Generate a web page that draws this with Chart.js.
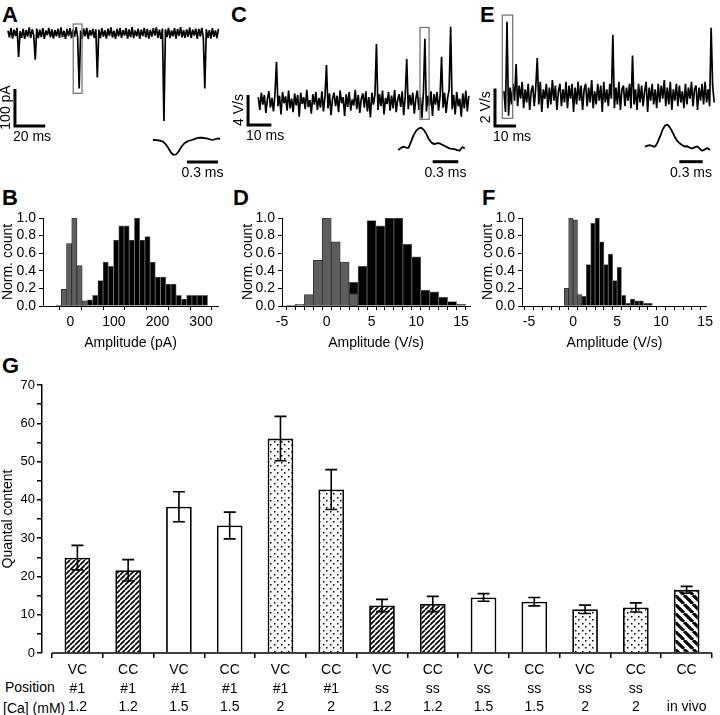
<!DOCTYPE html>
<html>
<head>
<meta charset="utf-8">
<script src="https://cdn.jsdelivr.net/npm/chart.js@4.4.1/dist/chart.umd.min.js"></script>
<style>
  body { margin: 0; background: #fff; }
  #fig { position: relative; width: 720px; height: 715px; overflow: hidden; font-family: "Liberation Sans", Arial, sans-serif; color: #000; }
  #fig canvas { position: absolute; }
  .panel { position: absolute; font-weight: bold; font-size: 22px; line-height: 22px; }
  .rowlabel { position: absolute; font-size: 14px; line-height: 14px; }
</style>
</head>
<body>
<div id="fig">
  <div class="panel" style="left:2px;top:4px">A</div>
  <div class="panel" style="left:231px;top:4px">C</div>
  <div class="panel" style="left:480px;top:4px">E</div>
  <div class="panel" style="left:2px;top:187px">B</div>
  <div class="panel" style="left:233px;top:187px">D</div>
  <div class="panel" style="left:482px;top:187px">F</div>
  <div class="panel" style="left:2px;top:355px">G</div>
  <div class="rowlabel" style="left:5px;top:680px">Position</div>
  <div class="rowlabel" style="left:3px;top:701px">[Ca] (mM)</div>
</div>
<script>
// A: voltage clamp trace (pA), one sample per ms
const traceA = [
  6, -12, 13, -15, 9, -8, 14, -65, 5, -13,
  11, -16, 8, -10, 15, -13, 10, -7, -72, 12,
  -14, 9, -11, 13, -16, 7, -6, 14, -12, 10,
  -15, 8, -9, 12, -13, 15, -11, 6, -16, 11,
  -8, 13, -14, 9, -10, 16, -12, -150, 7, -15,
  12, -9, 14, -16, 8, -7, 11, -13, 10, -120,
  9, -14, 13, -10, 7, -15, 12, -8, 15, -12,
  6, -16, 11, -9, 14, -13, 8, -7, 13, -15,
  10, -11, 16, -14, 7, -9, 12, -16, 9, -8,
  14, -12, 11, -15, 8, -10, 13, -7, 15, -13,
  9, -16, 12, -238, 10, -11, 14, -14, 7, -9,
  13, -15, 11, -8, 16, -12, 8, -13, 10, -10,
  15, -14, 9, -7, 12, -16, 11, -9, 14, -12,
  -150, 10, -13, 8, -15, 13, -10, 7, -14, 11
];
// C: current clamp dV/dt (V/s), 0.65 ms per sample
const traceC = [
  0.6, -1.1, 1.2, -0.4, 0.9, -1.5, 0.3, 1.4, -0.8, 0.5,
  -1.3, 1.0, 5.3, -0.6, 0.8, -1.7, 1.3, -0.2, 0.7, -1.2,
  1.5, -0.9, 0.4, -1.4, 1.1, -0.5, 0.9, -2.0, 1.2, -0.3,
  0.6, -1.0, 1.6, -0.7, 0.2, -1.6, 1.0, -0.4, 1.3, -1.1,
  0.5, -0.8, 1.4, -1.3, 0.7, 4.9, -0.9, 1.1, -1.8, 0.4,
  1.2, -0.6, 0.8, -1.4, 1.5, -0.2, 0.6, -1.9, 1.0, -0.7,
  1.3, -1.2, 0.3, -0.5, 1.6, -1.0, 0.9, -1.5, 0.4, 1.1,
  -0.8, 1.4, -1.3, 0.6, -2.1, 1.2, -0.4, 0.9, 7.7, -1.1,
  1.0, -0.6, 1.5, -1.7, 0.5, -0.3, 1.3, -1.2, 0.8, -0.9,
  1.6, -1.4, 0.2, 1.0, -0.7, 1.4, -1.8, 0.7, 5.7, -1.0,
  0.9, -0.5, 1.2, -1.6, 0.4, 1.5, -1.1, 0.6, -2.2, 1.1,
  8.4, -1.3, 0.8, -0.6, 1.4, -1.9, 1.0, -0.4, 1.3, -1.2,
  0.7, 6.0, -0.8, 1.2, -1.5, 0.5, 1.6, 10.0, -1.0, 0.9,
  -1.7, 1.3, -0.6, 0.4, -2.0, 1.1, -0.9, 1.5, -1.3, 0.8
];
// E: in vivo dV/dt (V/s), 0.72 ms per sample
const traceE = [
  0.2, -0.9, 3.9, -1.1, 0.4, -0.5, 0.6, -0.3, 1.65, -0.6,
  0.5, -0.2, 0.7, -0.7, 0.3, -0.4, 0.6, -0.8, 0.2, 0.5,
  -0.6, 0.4, 1.97, -0.5, 0.7, -0.9, 0.3, -0.2, 0.6, -0.7,
  0.4, -0.5, 0.8, -0.3, 0.5, -0.8, 0.2, 0.6, -0.6, 0.3,
  -0.4, 0.7, -0.7, 0.5, -0.2, 0.6, -0.9, 0.4, -0.5, 0.7,
  -0.3, 0.5, -0.8, 0.3, 0.6, -0.6, 0.4, -0.4, 0.8, -0.7,
  0.2, -0.5, 0.6, -0.3, 0.5, -0.9, 0.7, -0.4, 0.3, -0.6,
  0.6, -0.2, 3.2, -0.7, 0.4, -0.5, 0.7, -0.8, 0.3, 0.5,
  -0.6, 0.4, -0.3, 0.6, -0.7, 2.1, -0.5, 0.3, -0.8, 0.6,
  -0.4, 0.5, -0.6, 0.2, 0.7, -0.9, 0.4, -0.3, 0.6, -0.5,
  0.3, -0.7, 0.6, -0.4, 0.5, -0.2, 0.8, -0.6, 0.4, -0.5,
  0.7, -0.8, 0.3, -0.3, 0.6, -0.6, 0.5, -0.4, 0.2, -0.7,
  0.6, -0.5, 0.4, -0.2, 0.7, -0.6, 0.3, 0.5, -0.8, 0.4,
  -0.3, 0.6, -0.5, 0.7, -0.4, 0.3, -0.6, 3.58, 0.5, -0.4
];
// boxed events, expanded (normalized amplitude)
const insetA = [0, 0, -0.02, -0.05, -0.12, -0.3, -0.55, -0.85, -1.0, -0.95, -0.75, -0.45, -0.25, -0.12,
  -0.05, 0, 0.06, 0.12, 0.16, 0.15, 0.12, 0.1, 0.05, 0, 0.05, 0.1, 0.08];
const insetC = [-0.05, 0.05, 0.11, 0.07, 0.05, 0.35, 0.65, 0.86, 0.97, 1.0, 0.9, 0.7, 0.45, 0.3,
  0.23, 0.26, 0.27, 0.21, 0.15, 0.09, 0.03, 0.01, -0.01, -0.05, -0.08, 0.09, 0.02];
const insetE = [0, 0.05, 0.07, 0.02, 0, 0.18, 0.45, 0.75, 0.95, 1.0, 0.86, 0.66, 0.43, 0.25,
  0.14, 0.06, 0.01, 0.02, -0.05, -0.08, -0.02, 0.01, -0.1, -0.18, -0.12, -0.06, -0.15];

// B, D, F: amplitude histograms (noise in gray, events in black)
const binsBGray = [-27, -15, -3, 9, 21, 33];
const countsBGray = [0.01, 0.19, 0.71, 1.0, 0.46, 0.06];
const binsBBlack = [45, 57, 69, 81, 93, 105, 117, 129, 141, 153, 165, 177, 189, 201, 213, 225, 237, 249, 261, 273, 285, 297, 309];
const countsBBlack = [0.07, 0.12, 0.29, 0.5, 0.45, 0.75, 0.91, 0.91, 0.75, 1.0, 0.75, 0.79, 0.5, 0.33, 0.33, 0.25, 0.25, 0.12, 0.08, 0.12, 0.12, 0.12, 0.12];
const binsDGray = [-4, -3, -2, -1, 0, 1, 2, 3];
const countsDGray = [0.01, 0.02, 0.13, 0.52, 1.0, 0.73, 0.5, 0.14];
const binsDBlack = [3, 4, 5, 6, 7, 8, 9, 10, 11, 12, 13, 14, 15];
const countsDBlack = [0.27, 0.45, 0.97, 0.91, 1.0, 1.0, 0.7, 0.56, 0.18, 0.16, 0.1, 0.05, 0.02];
const binsFGray = [-0.75, -0.25, 0.25, 0.75];
const countsFGray = [0.2, 1.0, 0.98, 0.13];
const binsFBlack = [1.25, 1.75, 2.25, 2.75, 3.25, 3.75, 4.25, 4.75, 5.25, 5.75, 6.25, 6.75, 7.25, 7.75, 8.25, 8.75];
const countsFBlack = [0.11, 0.47, 0.94, 1.0, 0.73, 0.47, 0.59, 0.29, 0.44, 0.12, 0.03, 0.08, 0.06, 0.06, 0.03, 0.03];
const tickMarksPA = [-50, 0, 50, 100, 150, 200, 250, 300];
const tickLabelsPA = [0, 100, 200, 300];
const tickMarksVs = [-5, -4, -3, -2, -1, 0, 1, 2, 3, 4, 5, 6, 7, 8, 9, 10, 11, 12, 13, 14, 15];
const tickLabelsVs = [-5, 0, 5, 10, 15];
const ticksNorm = [0, 0.2, 0.4, 0.6, 0.8, 1.0];

// G: quantal content
const quantalMode = ['VC', 'CC', 'VC', 'CC', 'VC', 'CC', 'VC', 'CC', 'VC', 'CC', 'VC', 'CC', 'CC'];
const quantalPosition = ['#1', '#1', '#1', '#1', '#1', '#1', 'ss', 'ss', 'ss', 'ss', 'ss', 'ss', ''];
const quantalCa = ['1.2', '1.2', '1.5', '1.5', '2', '2', '1.2', '1.2', '1.5', '1.5', '2', '2', 'in vivo'];
const quantalMean = [24.9, 21.6, 38.2, 33.3, 56.0, 42.7, 12.4, 12.8, 14.5, 13.4, 11.4, 11.9, 16.5];
const quantalSem = [3.2, 2.8, 3.9, 3.5, 5.8, 5.2, 1.6, 2.0, 1.0, 1.1, 1.1, 1.2, 0.9];
const quantalFill = ['hatch', 'hatch', 'open', 'open', 'dots', 'dots', 'hatch', 'hatch', 'open', 'open', 'dots', 'dots', 'wide'];
const quantalTicks = [0, 10, 20, 30, 40, 50, 60, 70];

Chart.defaults.font.family = '"Liberation Sans", Arial, Helvetica, sans-serif';
Chart.defaults.font.size = 14;
Chart.defaults.color = '#000';
Chart.defaults.animation = false;

const fig = document.getElementById('fig');
const FONT = '14px "Liberation Sans", Arial, sans-serif';

function addCanvas(left, top, width, height) {
    const c = document.createElement('canvas');
    c.width = width;
    c.height = height;
    c.style.left = left + 'px';
    c.style.top = top + 'px';
    c.style.width = width + 'px';
    c.style.height = height + 'px';
    fig.appendChild(c);
    return c;
}

// scale bars and the gray box marking the expanded event
const traceDecor = {
    id: 'traceDecor',
    afterDatasetsDraw(chart, args, opts) {
        const { ctx, scales: { x, y } } = chart;
        ctx.save();
        if (opts.box) {
            const b = opts.box;
            const x0 = x.getPixelForValue(b.x0), x1 = x.getPixelForValue(b.x1);
            const y0 = y.getPixelForValue(b.y0), y1 = y.getPixelForValue(b.y1);
            ctx.strokeStyle = '#777';
            ctx.lineWidth = 1.3;
            ctx.strokeRect(x0, y1, x1 - x0, y0 - y1);
        }
        if (opts.bar) {
            const s = opts.bar;
            const px = x.getPixelForValue(s.x), py = y.getPixelForValue(s.y);
            const px2 = x.getPixelForValue(s.x + s.dx);
            const py2 = s.dy ? y.getPixelForValue(s.y + s.dy) : py;
            ctx.strokeStyle = '#000';
            ctx.lineWidth = 3;
            ctx.lineJoin = 'miter';
            ctx.beginPath();
            ctx.moveTo(px, py2);
            ctx.lineTo(px, py);
            ctx.lineTo(px2, py);
            ctx.stroke();
            ctx.fillStyle = '#000';
            ctx.font = FONT;
            ctx.textBaseline = 'middle';
            if (s.dy) {
                ctx.textAlign = 'left';
                ctx.fillText(s.xText, px - 2, py + 11);
                ctx.translate(px - 9, (py + py2) / 2);
                ctx.rotate(-Math.PI / 2);
                ctx.textAlign = 'center';
                ctx.fillText(s.yText, 0, 0);
            } else {
                ctx.textAlign = 'center';
                ctx.fillText(s.xText, (px + px2) / 2, py + 11);
            }
        }
        ctx.restore();
    }
};

function traceChart(canvas, values, dt, xRange, yRange, lineWidth, decor) {
    return new Chart(canvas, {
        type: 'line',
        data: {
            datasets: [{
                data: values.map((v, i) => ({ x: i * dt, y: v })),
                borderColor: '#000',
                borderWidth: lineWidth,
                borderJoinStyle: 'bevel',
                pointRadius: 0,
                tension: 0
            }]
        },
        options: {
            responsive: false,
            events: [],
            layout: { padding: 0 },
            scales: {
                x: { type: 'linear', display: false, min: xRange[0], max: xRange[1] },
                y: { type: 'linear', display: false, min: yRange[0], max: yRange[1] }
            },
            plugins: { legend: { display: false }, tooltip: { enabled: false }, traceDecor: decor }
        },
        plugins: [traceDecor]
    });
}

// Traces
traceChart(addCanvas(0, 10, 222, 140), traceA, 1, [-5.28, 141.35], [-316.2, 62.2], 1.7, {
    bar: { x: 4.6, y: -251.3, dx: 20, dy: 100, xText: '20 ms', yText: '100 pA' },
    box: { x0: 43.1, x1: 48.9, y0: -163, y1: 24.3 }
});
traceChart(addCanvas(230, 10, 245, 140), traceC, 0.65, [-12.15, 93.0], [-6.44, 12.23], 1.7, {
    bar: { x: -4.4, y: -3.1, dx: 10, dy: 4, xText: '10 ms', yText: '4 V/s' },
    box: { x0: 69.4, x1: 73.3, y0: -2.35, y1: 9.9 }
});
traceChart(addCanvas(478, 10, 242, 140), traceE, 0.72, [-12.38, 102.86], [-2.926, 4.521], 1.7, {
    bar: { x: -4.29, y: -1.65, dx: 10, dy: 2, xText: '10 ms', yText: '2 V/s' },
    box: { x0: -0.8, x1: 4.14, y0: -1.24, y1: 4.25 }
});

// Insets
traceChart(addCanvas(148, 125, 78, 55), insetA, 0.025, [-0.0484, 0.7067], [-2.667, 1.0], 1.8, {
    bar: { x: 0.329, y: -1.467, dx: 0.3, dy: 0, xText: '0.3 ms' }
});
traceChart(addCanvas(393, 120, 80, 60), insetC, 0.03, [-0.062, 0.876], [-1.455, 1.362], 1.8, {
    bar: { x: 0.403, y: -0.596, dx: 0.3, dy: 0, xText: '0.3 ms' }
});
traceChart(addCanvas(640, 118, 80, 62), insetE, 0.032, [-0.064, 0.9615], [-1.5, 1.293], 1.8, {
    bar: { x: 0.44, y: -0.675, dx: 0.3, dy: 0, xText: '0.3 ms' }
});

// Histograms
function histChart(canvas, yAxisWidth, gray, black, xMin, xMax, tickMarks, tickLabels, title) {
    return new Chart(canvas, {
        type: 'bar',
        data: {
            datasets: [{
                data: gray[0].map((b, i) => ({ x: b, y: gray[1][i] })),
                backgroundColor: '#5e5e5e',
                borderColor: '#2b2b2b',
                borderWidth: 0.8
            }, {
                data: black[0].map((b, i) => ({ x: b, y: black[1][i] })),
                backgroundColor: '#000',
                borderColor: '#666',
                borderWidth: 0.8
            }]
        },
        options: {
            responsive: false,
            events: [],
            layout: { padding: { top: 13, right: 7, left: 0, bottom: 0 } },
            datasets: { bar: { grouped: false, barPercentage: 1, categoryPercentage: 1, borderSkipped: false } },
            scales: {
                x: {
                    type: 'linear', min: xMin, max: xMax, offset: false,
                    afterFit: s => { s.height = 46; },
                    afterBuildTicks: s => { s.ticks = tickMarks.map(v => ({ value: v })); },
                    border: { color: '#000', width: 1 },
                    grid: { drawOnChartArea: false, tickLength: 4, color: '#000' },
                    ticks: {
                        autoSkip: false, maxRotation: 0, padding: 4,
                        callback: v => tickLabels.includes(v) ? String(v) : ''
                    },
                    title: { display: true, text: title, padding: 0 }
                },
                y: {
                    type: 'linear', min: 0, max: 1,
                    afterFit: s => { s.width = yAxisWidth; },
                    afterBuildTicks: s => { s.ticks = ticksNorm.map(v => ({ value: v })); },
                    border: { color: '#000', width: 1 },
                    grid: { drawOnChartArea: false, tickLength: 4, color: '#000' },
                    ticks: { autoSkip: false, padding: 3, callback: v => v.toFixed(1) },
                    title: { display: true, text: 'Norm. count', padding: 0 }
                }
            },
            plugins: { legend: { display: false }, tooltip: { enabled: false } }
        }
    });
}

histChart(addCanvas(0, 205, 225, 147), 43, [binsBGray, countsBGray], [binsBBlack, countsBBlack], -63, 339, tickMarksPA, tickLabelsPA, 'Amplitude (pA)');
histChart(addCanvas(240, 205, 237, 147), 42, [binsDGray, countsDGray], [binsDBlack, countsDBlack], -5, 16, tickMarksVs, tickLabelsVs, 'Amplitude (V/s)');
histChart(addCanvas(480, 205, 237, 147), 42, [binsFGray, countsFGray], [binsFBlack, countsFBlack], -5.8, 15.2, tickMarksVs, tickLabelsVs, 'Amplitude (V/s)');

// G: bar fills
function makeFill(kind) {
    if (kind === 'open') return '#fff';
    const size = { hatch: 5, dots: 7, wide: 9 }[kind];
    const c = document.createElement('canvas');
    c.width = c.height = size;
    const g = c.getContext('2d');
    g.fillStyle = '#fff';
    g.fillRect(0, 0, size, size);
    g.fillStyle = g.strokeStyle = '#000';
    if (kind === 'dots') {
        g.fillRect(1, 1, 1.5, 1.5);
        g.fillRect(4, 4, 1.5, 1.5);
    } else {
        g.lineWidth = kind === 'hatch' ? 1.7 : 3.2;
        g.beginPath();
        for (let k = -1; k <= 1; k++) {
            if (kind === 'hatch') { g.moveTo(k * size, size); g.lineTo((k + 1) * size, 0); }
            else { g.moveTo(k * size, 0); g.lineTo((k + 1) * size, size); }
        }
        g.stroke();
    }
    return g.createPattern(c, 'repeat');
}

// error bars + x axis line that starts clear of the y axis
const errorBars = {
    id: 'errorBars',
    afterDatasetsDraw(chart) {
        const { ctx, chartArea, scales: { x, y } } = chart;
        ctx.save();
        ctx.strokeStyle = '#000';
        ctx.lineWidth = 1.6;
        ctx.beginPath();
        quantalMean.forEach((m, i) => {
            const px = x.getPixelForValue(i);
            const top = y.getPixelForValue(m + quantalSem[i]);
            const bot = y.getPixelForValue(m - quantalSem[i]);
            ctx.moveTo(px, top); ctx.lineTo(px, bot);
            ctx.moveTo(px - 6, top); ctx.lineTo(px + 6, top);
            ctx.moveTo(px - 6, bot); ctx.lineTo(px + 6, bot);
        });
        ctx.stroke();
        ctx.lineWidth = 1.5;
        ctx.beginPath();
        ctx.moveTo(x.getPixelForValue(-0.5), chartArea.bottom);
        ctx.lineTo(chartArea.right, chartArea.bottom);
        ctx.stroke();
        ctx.restore();
    }
};

new Chart(addCanvas(0, 370, 720, 345), {
    type: 'bar',
    data: {
        datasets: [{
            data: quantalMean.map((v, i) => ({ x: i, y: v })),
            backgroundColor: quantalFill.map(makeFill),
            borderColor: '#000',
            borderWidth: 1.8,
            barPercentage: 0.506,
            categoryPercentage: 1
        }]
    },
    options: {
        responsive: false,
        events: [],
        layout: { padding: { top: 15, right: 8, left: 0, bottom: 0 } },
        scales: {
            x: {
                type: 'linear', min: -0.697, max: 12.5, offset: false,
                afterFit: s => { s.height = 62; },
                afterBuildTicks: s => { s.ticks = quantalMode.map((_, i) => ({ value: i })); },
                border: { display: false },
                grid: { drawOnChartArea: false, tickLength: 5, color: '#000', lineWidth: 1.5 },
                ticks: {
                    autoSkip: false, maxRotation: 0, padding: 3,
                    font: { size: 14, lineHeight: 1.32 },
                    callback: (v, i) => [quantalMode[i], quantalPosition[i], quantalCa[i]]
                }
            },
            y: {
                type: 'linear', min: 0, max: 70,
                afterFit: s => { s.width = 42; },
                border: { color: '#000', width: 1.5 },
                grid: { drawOnChartArea: false, tickLength: 5, color: '#000', lineWidth: 1.5 },
                ticks: { stepSize: 5, autoSkip: false, padding: 2, font: { size: 13 }, callback: v => quantalTicks.includes(v) ? String(v) : '' },
                title: { display: true, text: 'Quantal content', padding: 0 }
            }
        },
        plugins: { legend: { display: false }, tooltip: { enabled: false } }
    },
    plugins: [errorBars]
});
</script>
</body>
</html>
